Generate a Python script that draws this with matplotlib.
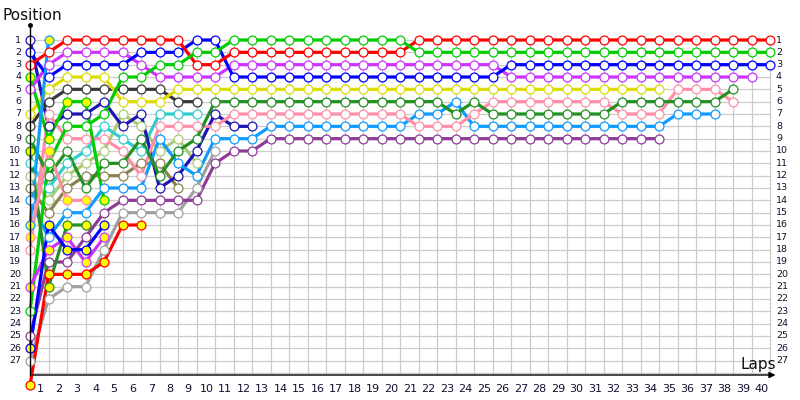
import matplotlib
matplotlib.use('Agg')
import matplotlib.pyplot as plt

# ---- data: position per lap, starting from lap 0 (grid) ----
red        = [3,2,1,1,1,1,1,1,1,3,3] + [2]*10 + [1]*20
green      = [23,11,8,8,7,4,4,3,3,2,2] + [1]*10 + [2]*20
blue       = [2,4,3,3,3,3,2,2,2,1,1] + [4]*15 + [3]*15
magenta    = [5,3,2,2,2,2,3,4,4,4,4] + [3]*15 + [4]*14
yellow     = [7,5,4,4,4,6,6,6,5,5,5] + [5]*24
dark_gray  = [8,6,5,5,5,5,5,5,6,6]
dark_green = [9,12,10,13,11,11,9,12,10,9,6] + [6]*12 + [7,6] + [7]*7 + [6]*6 + [5]
pink       = [18,7,9,9,9,10,12,8,8,8,8] + [7]*10 + [8]*3 + [7] + [6]*7 + [7]*3 + [5]*3 + [6]
light_blue = [14,17,15,15,13,13,13,9,11,12,9,9,9] + [8]*8 + [7,7,6,8] + [8]*10 + [7]*3
purple     = [25,19,19,17,15,14,14,14,14,14,11,10,10] + [9]*22
teal       = [11,13,11,10,8,9,10,7,7,7]
light_olive= [12,14,12,11,10,7,8,10,9,11]
navy       = [1,8,7,7,6,8,7,13,12,10,7,8,8]
khaki      = [13,15,13,12,12,12,11,11,13]
gray       = [27,22,21,21,18,15,15,15,15,13,10]
# teammates (yellow-filled markers)
green_b      = [4,9,6,6,14]
light_blue_b = [16,1]
pink_b       = [17,10,14,14]
magenta_b    = [21,18,17,19,17]
blue_b       = [26,16,18,18,16]
red_b        = [29,20,20,20,19,16,16]
dark_green_b = [10,21,16,16]

series = [
    (gray, '#a0a0a0', 'white'),
    (khaki, '#8a8250', 'white'),
    (light_olive, '#aacc77', 'white'),
    (teal, '#33cccc', 'white'),
    (navy, '#1c14b4', 'white'),
    (dark_gray, '#383838', 'white'),
    (purple, '#8e3c98', 'white'),
    (light_blue, '#0f9bff', 'white'),
    (pink, '#ff8fa8', 'white'),
    (dark_green, '#229022', 'white'),
    (yellow, '#dddd00', 'white'),
    (magenta, '#cc33ff', 'white'),
    (blue, '#0000ff', 'white'),
    (red, '#ff0000', 'white'),
    (green, '#00cc00', 'white'),
    (dark_green_b, '#229022', '#ffff00'),
    (pink_b, '#ff8fa8', '#ffff00'),
    (magenta_b, '#cc33ff', '#ffff00'),
    (blue_b, '#0000ff', '#ffff00'),
    (red_b, '#ff0000', '#ffff00'),
    (green_b, '#00cc00', '#ffff00'),
    (light_blue_b, '#0f9bff', '#ffff00'),
]

n_laps = 40
n_rows = 28
pos_labels = list(range(1, 28))
lap_labels = list(range(1, 41))

fig = plt.figure(figsize=(8, 4), dpi=100)
ax = fig.add_axes([30/800, 25/400, 750/800, 355/400])
px_lap = 18.5
px_pos = 12.333
ybot = (375 - 40) / px_pos + 1
ytop = (20 - 40) / px_pos + 1
ax.set_xlim(0, 750 / px_lap)
ax.set_ylim(ybot, ytop)
ax.axis('off')

# grid
for p in range(1, n_rows + 1):
    ax.plot([0, n_laps], [p, p], color='#cccccc', lw=0.9, zorder=0)
for L in range(1, n_laps + 1):
    ax.plot([L, L], [1, ybot], color='#cccccc', lw=0.9, zorder=0)

# axes lines
ax.plot([0, 0], [ybot, (25 - 40) / px_pos + 1], color='black', lw=1, zorder=5, clip_on=False)
ax.plot([0], [(25 - 40) / px_pos + 1], 'o', color='black', ms=2.5, zorder=5, clip_on=False)
ax.annotate('', xy=(40.45, ybot), xytext=(0, ybot),
            arrowprops=dict(arrowstyle='-|>', color='black', lw=1, mutation_scale=9),
            annotation_clip=False, zorder=5)

# series
for vals, col, fill in series:
    laps = list(range(len(vals)))
    ax.plot(laps, vals, color=col, lw=2.3, zorder=3, clip_on=False,
            solid_capstyle='round', solid_joinstyle='round')
    ax.plot(laps, vals, 'o', color=col, markerfacecolor=fill, markeredgecolor=col,
            ms=6.4, mew=0.9, zorder=4, clip_on=False)

# labels
lab_col = '#101030'
for p in pos_labels:
    ax.text((21 - 30) / px_lap, p, str(p), ha='right', va='center', fontsize=6.8, color=lab_col)
    ax.text((776 - 30) / px_lap, p, str(p), ha='left', va='center', fontsize=6.8, color=lab_col)
for L in lap_labels:
    ax.text(L - 0.45, (389 - 40) / px_pos + 1, str(L), ha='center', va='center', fontsize=8, color=lab_col)

fig.text(3/800, 1 - 15/400, 'Position', ha='left', va='center', fontsize=11, color='#101010')
fig.text(758/800, 1 - 364/400, 'Laps', ha='center', va='center', fontsize=11, color='#101010')

fig.savefig('out.png', dpi=100, facecolor='white')
